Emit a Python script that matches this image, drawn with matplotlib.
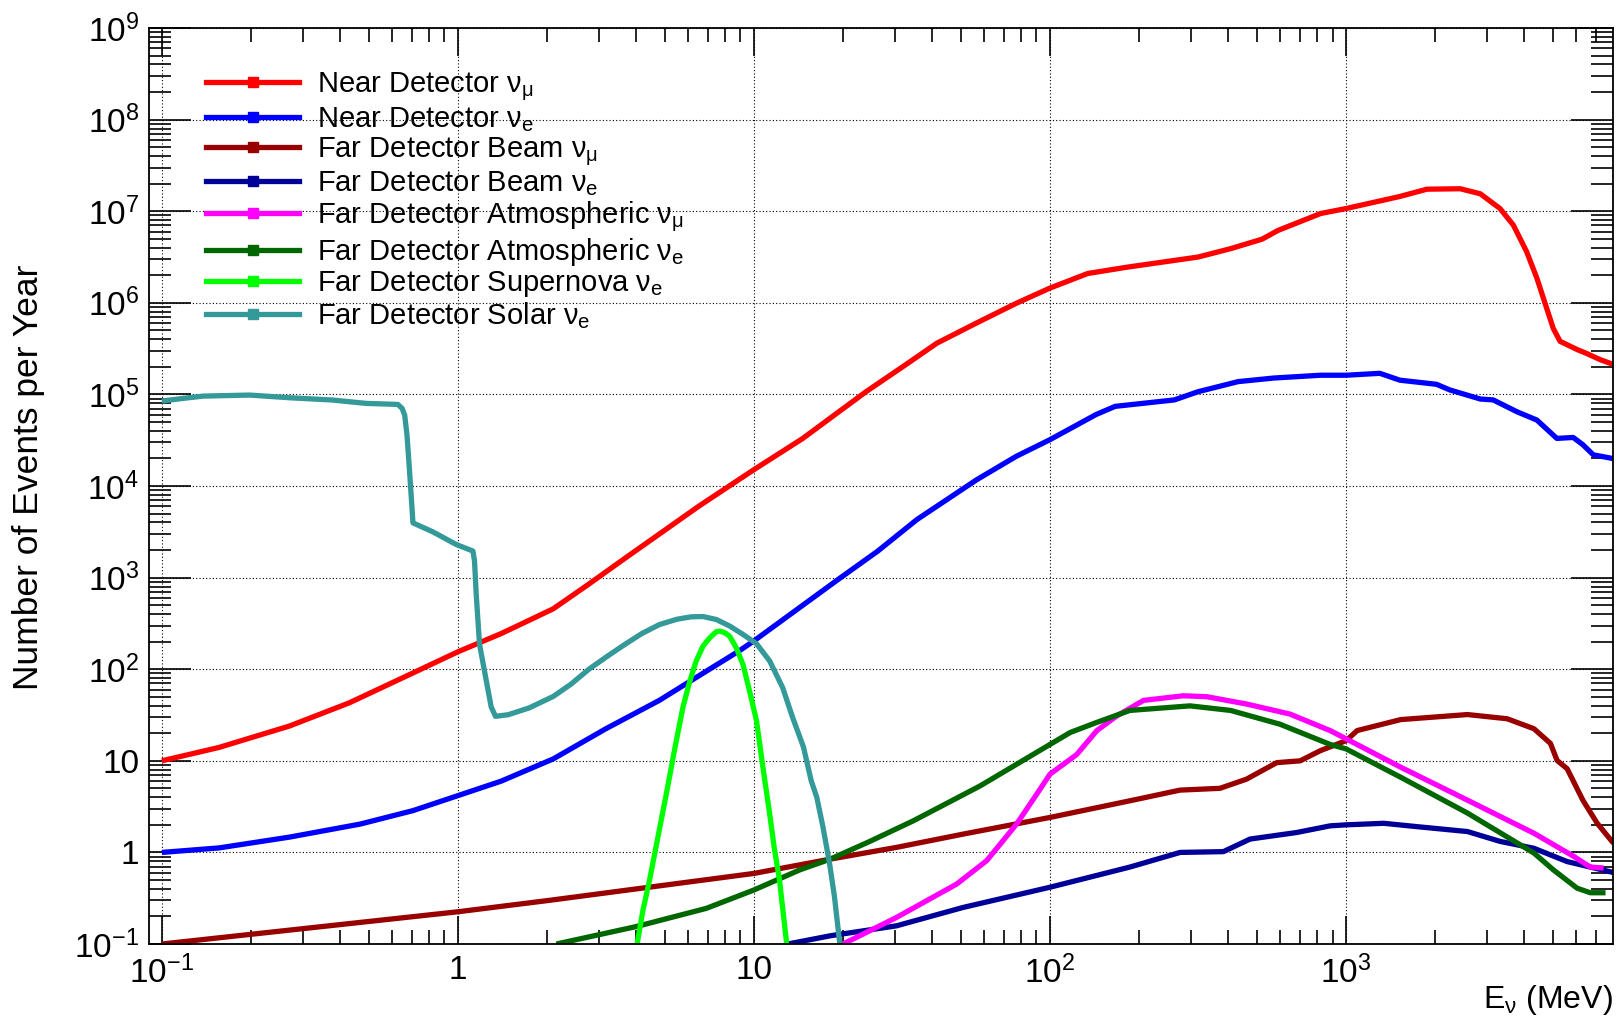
import numpy as np
import matplotlib
matplotlib.use('Agg')
import matplotlib.pyplot as plt
from matplotlib.lines import Line2D
from matplotlib.ticker import LogLocator, FuncFormatter, NullFormatter

plt.rcParams['font.family'] = ['Liberation Sans', 'DejaVu Sans']
plt.rcParams['mathtext.fontset'] = 'custom'
plt.rcParams['mathtext.rm'] = 'Liberation Sans'
plt.rcParams['mathtext.it'] = 'Liberation Sans'
plt.rcParams['mathtext.default'] = 'regular'

# Near Detector nu_mu
nd_numu_E = [0.1, 0.156, 0.27, 0.43, 0.705, 1.0, 1.4, 1.7, 2.1, 2.77, 3.55, 6.5, 10, 14.6, 23.9,
             32.4, 41.5, 56.5, 76.9, 100, 134, 182, 316, 407, 520, 589, 820, 1000, 1520, 1875,
             2430, 2840, 3310, 3670, 4070, 4410, 4760, 5010, 5280, 6030, 6460, 7210, 7940]
nd_numu_N = [10, 14, 24, 43, 91, 155, 245, 330, 457, 851, 1510, 6000, 15100, 33000, 107000,
             209000, 363000, 603000, 988000, 1.45e6, 2.09e6, 2.45e6, 3.16e6, 3.9e6, 4.95e6,
             6.17e6, 9.44e6, 1.07e7, 1.45e7, 1.74e7, 1.76e7, 1.55e7, 1.07e7, 7.08e6, 3.63e6,
             1.86e6, 8.7e5, 5.25e5, 3.8e5, 3.09e5, 2.82e5, 2.4e5, 2.14e5]

# Near Detector nu_e
nd_nue_E = [0.1, 0.156, 0.27, 0.468, 0.705, 1.0, 1.4, 2.1, 3.16, 4.79, 6.6, 8.9, 10, 19.2, 26.2,
            35.5, 56.5, 76.9, 100, 143, 166, 263, 316, 432, 570, 820, 1000, 1300, 1520, 2020,
            2240, 2840, 3140, 3780, 4410, 5150, 5850, 6310, 6840, 7940]
nd_nue_N = [1.0, 1.12, 1.47, 2.04, 2.86, 4.17, 6.0, 10.5, 22.4, 45.7, 87, 158, 204, 950, 1950,
            4300, 11700, 21100, 32100, 60300, 74100, 87100, 107000, 138000, 151000, 162000,
            162000, 170000, 143000, 129000, 112000, 89100, 87100, 64600, 52500, 33100, 33900,
            28200, 21900, 20000]

# Far Detector beam nu_mu
fd_beam_numu_E = [0.1, 1.0, 2.04, 10, 18.1, 30.3, 50.9, 100, 186, 275, 375, 461, 583, 700, 818,
                  1000, 1090, 1530, 2570, 3500, 4310, 4900, 5160, 5580, 6310, 7050, 8000]
fd_beam_numu_N = [0.1, 0.225, 0.30, 0.59, 0.845, 1.135, 1.585, 2.41, 3.66, 4.79, 5.01, 6.31, 9.55,
                  10.0, 12.9, 16.6, 21.4, 28.2, 32.0, 28.8, 22.4, 15.5, 10.1, 8.2, 3.7, 2.08, 1.26]

# Far Detector beam nu_e
fd_beam_nue_E = [13.0, 18.1, 30.3, 50.9, 100, 186, 275, 385, 474, 681, 883, 1000, 1340, 1740,
                 2570, 3310, 4310, 5580, 8000]
fd_beam_nue_N = [0.1, 0.123, 0.158, 0.251, 0.417, 0.692, 1.0, 1.02, 1.40, 1.65, 1.95, 2.0, 2.08,
                 1.91, 1.69, 1.32, 1.11, 0.794, 0.603]

# Far Detector atmospheric nu_mu
fd_atm_numu_E = [20, 30.3, 48.4, 61.1, 77.1, 90.2, 100, 123, 144, 168, 207, 282, 339, 461, 646,
                 883, 1000, 1530, 2570, 4310, 5870, 6680, 7410]
fd_atm_numu_N = [0.1, 0.195, 0.452, 0.813, 2.04, 4.33, 7.16, 11.7, 21.4, 30.9, 45.7, 51.3, 50.1,
                 41.7, 32.4, 21.4, 17.4, 8.51, 3.72, 1.62, 0.906, 0.692, 0.676]

# Far Detector atmospheric nu_e
fd_atm_nue_E = [2.15, 4.0, 6.9, 10, 14.3, 18.1, 24.5, 34.5, 58.1, 100, 117, 144, 186, 297, 407,
                598, 883, 1000, 1530, 2570, 4310, 5010, 6030, 6680, 7520]
fd_atm_nue_N = [0.1, 0.155, 0.245, 0.389, 0.646, 0.845, 1.31, 2.21, 5.33, 15.1, 20.4, 26.3, 35.5,
                39.8, 35.5, 25.1, 15.1, 13.5, 6.61, 2.69, 0.984, 0.646, 0.407, 0.363, 0.363]

# Far Detector supernova nu_e
fd_sn_E = [4.03, 4.22, 4.44, 4.74, 5.06, 5.40, 5.75, 6.07, 6.38, 6.73, 7.08, 7.46, 7.66, 7.96,
           8.28, 8.71, 9.18, 9.66, 10.2, 10.7, 11.3, 11.7, 12.2, 12.9]
fd_sn_N = [0.1, 0.236, 0.5, 1.48, 4.37, 13.5, 38, 74, 123, 179, 219, 257, 261, 251,
           229, 172, 113, 58, 27.4, 8.9, 2.63, 1.14, 0.497, 0.1]

# Far Detector solar nu_e
fd_solar_E = [0.1, 0.118, 0.138, 0.198, 0.27, 0.378, 0.49, 0.627, 0.648, 0.661, 0.673, 0.683,
              0.695, 0.705, 0.823, 0.987, 1.124, 1.138, 1.153, 1.183, 1.247, 1.296, 1.34, 1.48,
              1.74, 2.10, 2.41, 2.77, 3.18, 3.64, 4.18, 4.79, 5.49, 6.12, 6.73, 7.46, 8.28, 9.18,
              10.2, 11.3, 12.5, 13.5, 14.7, 15.6, 16.3, 17.1, 18.0, 18.7, 19.5]
fd_solar_N = [84700, 90500, 95900, 98400, 92000, 86800, 79800, 77800, 70400, 59600, 36100, 18500,
              8050, 3960, 3160, 2300, 1950, 1520, 659, 188, 75, 38.6, 30.6, 31.9,
              37.8, 50.5, 68.7, 100, 137, 184, 245, 307, 351, 373, 376, 349, 296, 240,
              190, 123, 63, 29.9, 14.1, 6.1, 4.0, 1.9, 0.76, 0.33, 0.1]

series = [
    (nd_numu_E, nd_numu_N, '#ff0000', r'Near Detector $\nu_{\mu}$'),
    (nd_nue_E, nd_nue_N, '#0000ff', r'Near Detector $\nu_{e}$'),
    (fd_beam_numu_E, fd_beam_numu_N, '#990000', r'Far Detector Beam $\nu_{\mu}$'),
    (fd_beam_nue_E, fd_beam_nue_N, '#000099', r'Far Detector Beam $\nu_{e}$'),
    (fd_atm_numu_E, fd_atm_numu_N, '#ff00ff', r'Far Detector Atmospheric $\nu_{\mu}$'),
    (fd_atm_nue_E, fd_atm_nue_N, '#006600', r'Far Detector Atmospheric $\nu_{e}$'),
    (fd_sn_E, fd_sn_N, '#00ff00', r'Far Detector Supernova $\nu_{e}$'),
    (fd_solar_E, fd_solar_N, '#339999', r'Far Detector Solar $\nu_{e}$'),
]

fig = plt.figure(figsize=(16.18, 10.23), dpi=100)
ax = fig.add_axes([0.092, 0.0772, 0.905, 0.8954])

handles = []
for E, N, c, lab in series:
    ax.plot(E, N, color=c, lw=3.8, solid_capstyle='butt', solid_joinstyle='round')
    handles.append(Line2D([], [], color=c, lw=3.8, marker='s', ms=7, label=lab))

ax.set_xscale('log')
ax.set_yscale('log')
ax.set_xlim(0.0904, 7980)
ax.set_ylim(0.1, 1e9)


def fmt(v, pos):
    e = int(round(np.log10(v)))
    if e == 0:
        return '1'
    if e == 1:
        return '10'
    return r'$10^{%d}$' % e


for axis in (ax.xaxis, ax.yaxis):
    axis.set_major_locator(LogLocator(base=10, numticks=20))
    axis.set_minor_locator(LogLocator(base=10, subs=np.arange(2, 10), numticks=20))
    axis.set_major_formatter(FuncFormatter(fmt))
    axis.set_minor_formatter(NullFormatter())

ax.tick_params(which='both', direction='in', top=True, right=True, width=1.2, labelsize=24)
ax.tick_params(axis='x', which='major', length=20, pad=8)
ax.tick_params(axis='x', which='minor', length=10)
ax.tick_params(axis='y', which='major', length=30, pad=7)
ax.tick_params(axis='y', which='minor', length=16)
for s in ax.spines.values():
    s.set_linewidth(1.3)

ax.grid(which='major', linestyle=(0, (1, 2)), color='black', lw=0.8)

ax.set_xlabel(r'E$_{\nu}$ (MeV)', fontsize=23, loc='right')
ax.xaxis.set_label_coords(1.0, -0.043)
ax.set_ylabel('Number of Events per Year', fontsize=25.5)
ax.yaxis.set_label_coords(-0.071, 0.51)

ax.legend(handles=handles, loc='upper left', bbox_to_anchor=(0.039, 0.9535), frameon=False,
          fontsize=21, handlelength=3.2, handletextpad=0.62, labelspacing=0.05,
          borderpad=0, borderaxespad=0)

fig.savefig('out.png', dpi=100)
